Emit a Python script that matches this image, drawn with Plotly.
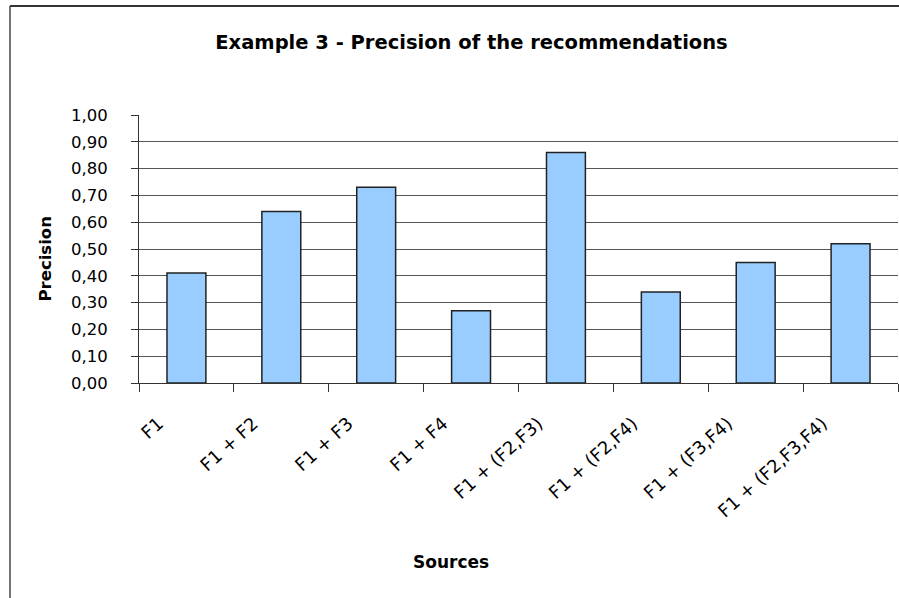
import plotly.graph_objects as go

categories = ["F1", "F1 + F2", "F1 + F3", "F1 + F4", "F1 + (F2,F3)",
              "F1 + (F2,F4)", "F1 + (F3,F4)", "F1 + (F2,F3,F4)"]
precision = [0.41, 0.64, 0.73, 0.27, 0.86, 0.34, 0.45, 0.52]
y_ticks = [0.0, 0.1, 0.2, 0.3, 0.4, 0.5, 0.6, 0.7, 0.8, 0.9, 1.0]

title_text = "Example 3 - Precision of the recommendations"
x_title = "Sources"
y_title = "Precision"

W, H = 899, 598
L, R, T, B = 139, 1, 115, 215
pw = W - L - R
ph = H - T - B


def px_x(px):
    return (px - L) / pw


def px_y(py):
    return 1 - (py - T) / ph


FONT = "DejaVu Sans"

fig = go.Figure(
    go.Bar(
        x=categories,
        y=precision,
        width=0.41,
        marker=dict(color="#99CCFF", line=dict(color="#222222", width=1.5)),
    )
)

fig.update_layout(
    width=W,
    height=H,
    margin=dict(l=L, r=R, t=T, b=B, autoexpand=False),
    paper_bgcolor="white",
    plot_bgcolor="white",
    separators=",.",
    showlegend=False,
    font=dict(family=FONT, color="black", size=16),
    title=dict(
        text="<b>" + title_text + "</b>",
        font=dict(family=FONT, size=19.5, color="black"),
        xref="container", yref="container",
        x=471.5 / W, xanchor="center",
        y=1 - 42 / H, yanchor="middle",
    ),
)

fig.update_xaxes(
    type="category",
    range=[-0.5, len(categories) - 0.5],
    showline=True, linecolor="#333333", linewidth=1,
    ticks="outside", tickson="boundaries", ticklen=8, tickcolor="#333333",
    tickangle=-42,
    tickfont=dict(family=FONT, size=18, color="black"),
    ticklabelstandoff=22,
    ticklabelshift=-28,
    showgrid=False,
    automargin=False,
)

fig.update_yaxes(
    range=[0, 1.0],
    tickvals=y_ticks,
    tickformat=".2f",
    showgrid=True, gridcolor="#555555", gridwidth=1,
    zeroline=False,
    showline=True, linecolor="#333333", linewidth=1,
    ticks="outside", ticklen=7, tickcolor="#333333",
    tickfont=dict(family=FONT, size=16.5, color="black"),
    ticklabelstandoff=20,
    automargin=False,
)

fig.add_annotation(
    text="<b>" + x_title + "</b>", xref="paper", yref="paper",
    x=px_x(451), y=px_y(562), xanchor="center", yanchor="middle",
    showarrow=False, font=dict(family=FONT, size=17, color="black"),
)
fig.add_annotation(
    text="<b>" + y_title + "</b>", xref="paper", yref="paper",
    x=px_x(44.5), y=px_y(259), xanchor="center", yanchor="middle",
    textangle=-90,
    showarrow=False, font=dict(family=FONT, size=16.5, color="black"),
)

# outer chart border (top and left edges visible)
fig.add_shape(type="line", xref="paper", yref="paper",
              x0=px_x(10), x1=px_x(899), y0=px_y(6), y1=px_y(6),
              line=dict(color="#333333", width=2))
fig.add_shape(type="line", xref="paper", yref="paper",
              x0=px_x(10), x1=px_x(10), y0=px_y(6), y1=px_y(598),
              line=dict(color="#444444", width=1.5))

fig.write_html("out.html")
